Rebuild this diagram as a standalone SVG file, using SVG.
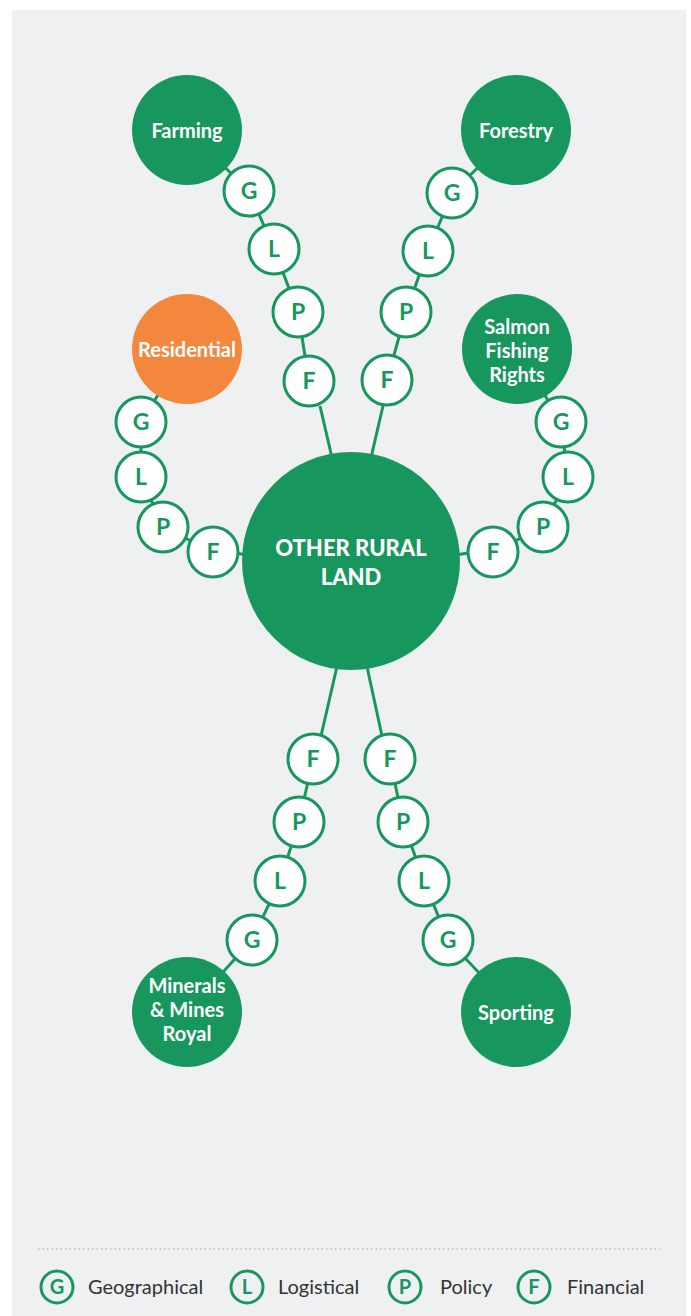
<svg xmlns="http://www.w3.org/2000/svg" width="691" height="1316" viewBox="0 0 691 1316">
<style>
.bg{fill:#EFF0F2}
.node{fill:#17975E}
.res{fill:#F3873D}
.bub{fill:#FFFFFF;stroke:#17975E;stroke-width:3}
.leg{fill:none;stroke:#17975E;stroke-width:3}
.con{stroke:#17975E;stroke-width:3;fill:none}
.bl{font-family:Lato,"Open Sans",sans-serif;font-weight:700;font-size:23px;fill:#17975E;text-anchor:middle}
.nl{font-family:Lato,"Open Sans",sans-serif;font-weight:700;font-size:20px;fill:#FFFFFF;text-anchor:middle}
.cl{font-family:Lato,"Open Sans",sans-serif;font-weight:900;font-size:22px;fill:#FFFFFF;text-anchor:middle}
.ll{font-family:Lato,"Open Sans",sans-serif;font-weight:700;font-size:20px;fill:#17975E;text-anchor:middle}
.lt{font-family:Lato,"Open Sans",sans-serif;font-size:20px;fill:#333333}
</style>
<rect x="0" y="0" width="691" height="1316" fill="#FFFFFF"/>
<rect class="bg" x="12" y="10" width="674" height="1306"/>
<g id="connectors">
<polyline class="con" points="187,130 249,191 274,249 298,312 309,381"/>
<polyline class="con" points="516,130 452,193 428,251 406,312 387,380"/>
<polyline class="con" points="187,349 141,422 141,477 163,527 213,552"/>
<polyline class="con" points="517,349 561,422 568,477 543,527 493,552"/>
<polyline class="con" points="187,1012 252,940 280,881 299,822 313,759"/>
<polyline class="con" points="516,1012 448,940 424,881 403,822 390,759"/>
<line class="con" x1="320" y1="406" x2="333" y2="462"/>
<line class="con" x1="383" y1="406" x2="370" y2="462"/>
<line class="con" x1="236" y1="553" x2="252" y2="556"/>
<line class="con" x1="468" y1="553" x2="450" y2="556"/>
<line class="con" x1="338" y1="662" x2="321" y2="736"/>
<line class="con" x1="366" y1="662" x2="382" y2="736"/>
</g>
<g id="center">
<circle class="node" cx="351" cy="561" r="109"/>
<text class="cl" x="351" y="556">OTHER RURAL</text>
<text class="cl" x="351" y="585">LAND</text>
</g>
<g id="farming">
<circle class="node" cx="187" cy="130" r="55"/>
<text class="nl" x="187" y="138">Farming</text>
</g>
<g id="forestry">
<circle class="node" cx="516" cy="130" r="55"/>
<text class="nl" x="516" y="138">Forestry</text>
</g>
<g id="residential">
<circle class="res" cx="187" cy="349" r="55"/>
<text class="nl" x="187" y="357">Residential</text>
</g>
<g id="salmon">
<circle class="node" cx="517" cy="349" r="55"/>
<text class="nl" x="517" y="334">Salmon</text>
<text class="nl" x="517" y="358">Fishing</text>
<text class="nl" x="517" y="382">Rights</text>
</g>
<g id="minerals">
<circle class="node" cx="187" cy="1012" r="55"/>
<text class="nl" x="187" y="993">Minerals</text>
<text class="nl" x="187" y="1017">&amp; Mines</text>
<text class="nl" x="187" y="1041">Royal</text>
</g>
<g id="sporting">
<circle class="node" cx="516" cy="1012" r="55"/>
<text class="nl" x="516" y="1020">Sporting</text>
</g>
<g id="farming-chain">
<g id="farming-g"><circle class="bub" cx="249" cy="191" r="25"/><text class="bl" x="249" y="199">G</text></g>
<g id="farming-l"><circle class="bub" cx="274" cy="249" r="25"/><text class="bl" x="274" y="257">L</text></g>
<g id="farming-p"><circle class="bub" cx="298" cy="312" r="25"/><text class="bl" x="298" y="320">P</text></g>
<g id="farming-f"><circle class="bub" cx="309" cy="381" r="25"/><text class="bl" x="309" y="389">F</text></g>
</g>
<g id="forestry-chain">
<g id="forestry-g"><circle class="bub" cx="452" cy="193" r="25"/><text class="bl" x="452" y="201">G</text></g>
<g id="forestry-l"><circle class="bub" cx="428" cy="251" r="25"/><text class="bl" x="428" y="259">L</text></g>
<g id="forestry-p"><circle class="bub" cx="406" cy="312" r="25"/><text class="bl" x="406" y="320">P</text></g>
<g id="forestry-f"><circle class="bub" cx="387" cy="380" r="25"/><text class="bl" x="387" y="388">F</text></g>
</g>
<g id="residential-chain">
<g id="residential-g"><circle class="bub" cx="141" cy="422" r="25"/><text class="bl" x="141" y="430">G</text></g>
<g id="residential-l"><circle class="bub" cx="141" cy="477" r="25"/><text class="bl" x="141" y="485">L</text></g>
<g id="residential-p"><circle class="bub" cx="163" cy="527" r="25"/><text class="bl" x="163" y="535">P</text></g>
<g id="residential-f"><circle class="bub" cx="213" cy="552" r="25"/><text class="bl" x="213" y="560">F</text></g>
</g>
<g id="salmon-chain">
<g id="salmon-g"><circle class="bub" cx="561" cy="422" r="25"/><text class="bl" x="561" y="430">G</text></g>
<g id="salmon-l"><circle class="bub" cx="568" cy="477" r="25"/><text class="bl" x="568" y="485">L</text></g>
<g id="salmon-p"><circle class="bub" cx="543" cy="527" r="25"/><text class="bl" x="543" y="535">P</text></g>
<g id="salmon-f"><circle class="bub" cx="493" cy="552" r="25"/><text class="bl" x="493" y="560">F</text></g>
</g>
<g id="minerals-chain">
<g id="minerals-f"><circle class="bub" cx="313" cy="759" r="25"/><text class="bl" x="313" y="767">F</text></g>
<g id="minerals-p"><circle class="bub" cx="299" cy="822" r="25"/><text class="bl" x="299" y="830">P</text></g>
<g id="minerals-l"><circle class="bub" cx="280" cy="881" r="25"/><text class="bl" x="280" y="889">L</text></g>
<g id="minerals-g"><circle class="bub" cx="252" cy="940" r="25"/><text class="bl" x="252" y="948">G</text></g>
</g>
<g id="sporting-chain">
<g id="sporting-f"><circle class="bub" cx="390" cy="759" r="25"/><text class="bl" x="390" y="767">F</text></g>
<g id="sporting-p"><circle class="bub" cx="403" cy="822" r="25"/><text class="bl" x="403" y="830">P</text></g>
<g id="sporting-l"><circle class="bub" cx="424" cy="881" r="25"/><text class="bl" x="424" y="889">L</text></g>
<g id="sporting-g"><circle class="bub" cx="448" cy="940" r="25"/><text class="bl" x="448" y="948">G</text></g>
</g>
<g id="legend">
<line x1="38" y1="1249" x2="660" y2="1249" stroke="#B8BBC0" stroke-width="1.5" stroke-dasharray="1.5 3"/>
<circle class="leg" cx="57" cy="1287" r="16"/><text class="ll" x="57" y="1294">G</text>
<text class="lt" x="88" y="1294">Geographical</text>
<circle class="leg" cx="247" cy="1287" r="16"/><text class="ll" x="247" y="1294">L</text>
<text class="lt" x="278" y="1294">Logistical</text>
<circle class="leg" cx="405" cy="1287" r="16"/><text class="ll" x="405" y="1294">P</text>
<text class="lt" x="440" y="1294">Policy</text>
<circle class="leg" cx="534" cy="1287" r="16"/><text class="ll" x="534" y="1294">F</text>
<text class="lt" x="567" y="1294">Financial</text>
</g>
</svg>
